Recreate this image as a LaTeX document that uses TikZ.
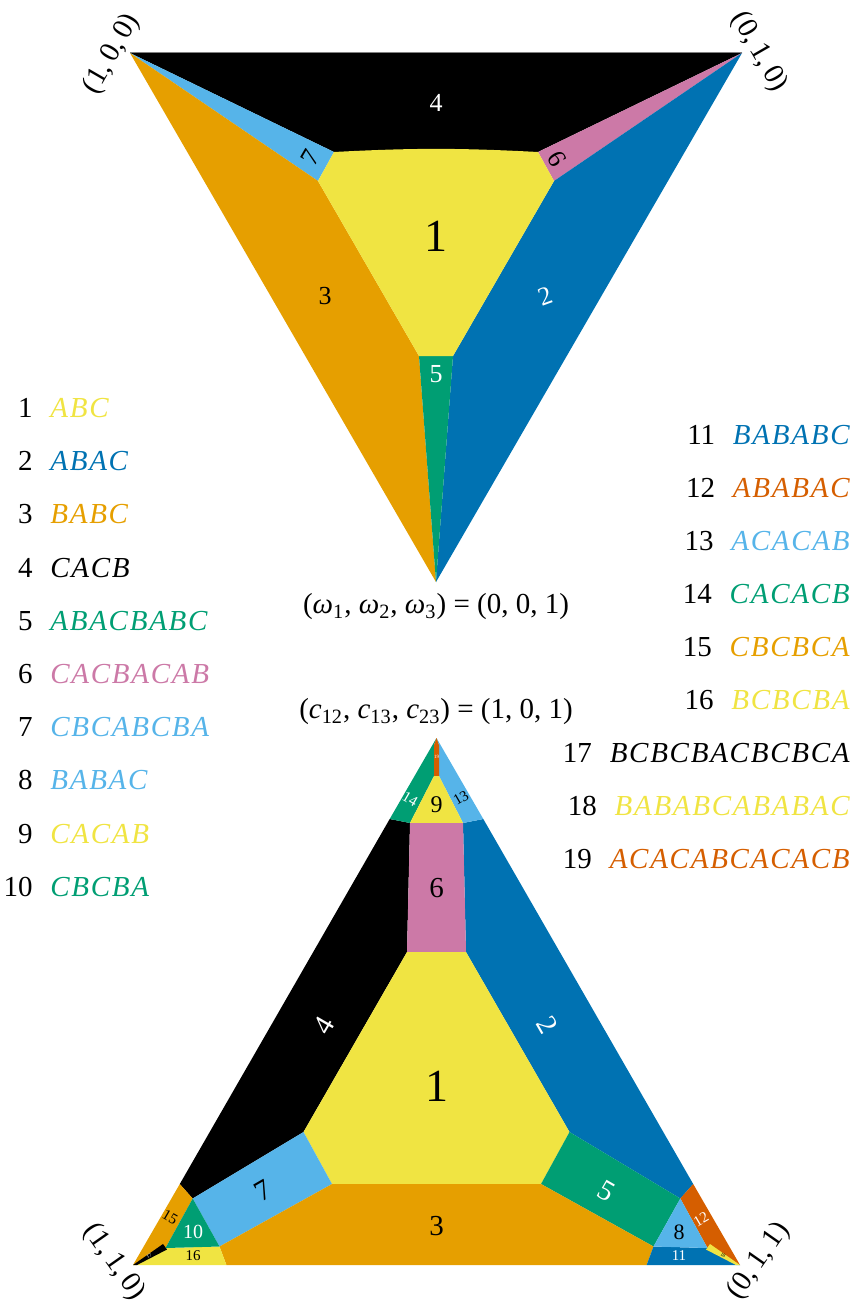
\documentclass[tikz,border=0pt]{standalone}
\usepackage{fontspec}
\setmainfont{Liberation Serif}
\newfontfamily\wordfont[LetterSpace=6]{Liberation Serif}
\usepackage{xcolor}
\usepackage{tikz}
\usetikzlibrary{positioning}

\definecolor{cyel}{HTML}{F0E442}
\definecolor{cblu}{HTML}{0072B2}
\definecolor{corg}{HTML}{E69F00}
\definecolor{cgrn}{HTML}{009E73}
\definecolor{cpnk}{HTML}{CC79A7}
\definecolor{csky}{HTML}{56B4E9}
\definecolor{cver}{HTML}{D55E00}

\begin{document}
\begin{tikzpicture}[
        x = 0.5pt, y = -0.5pt,
        lbl/.style = {inner sep=0pt, font=\fontsize{13}{13}\selectfont},
        lblbig/.style = {lbl, font=\fontsize{23}{23}\selectfont},
        lblmid/.style = {lbl, font=\fontsize{14.5}{14.5}\selectfont},
        lblsml/.style = {lbl, font=\fontsize{7.5}{7.5}\selectfont},
        lbltny/.style = {lbl, font=\fontsize{2.5}{2.5}\selectfont},
        num/.style = {inner sep=0pt, font=\fontsize{14.5}{17}\selectfont},
        word/.style = {inner sep=0pt, font=\fontsize{14.5}{17}\selectfont\wordfont\itshape},
        label distance = 8.5pt,
    ]
    \useasboundingbox (0,0) rectangle (857,1305);

    % upper triangle
    \coordinate (A) at (130,53);
    \coordinate (B) at (742,53);
    \coordinate (C) at (436,582);
    \coordinate (h1) at (334,152);
    \coordinate (h2) at (538,152);
    \coordinate (h3) at (554,181);
    \coordinate (h4) at (453,356);
    \coordinate (h5) at (419,356);
    \coordinate (h6) at (318,181);
    \fill[black] (A) -- (B) -- (h2) -- (h1) -- cycle;
    \fill[csky] (A) -- (h1) -- (h6) -- cycle;
    \fill[cpnk] (B) -- (h3) -- (h2) -- cycle;
    \fill[corg] (A) -- (h6) -- (h5) -- (C) -- cycle;
    \fill[cblu] (B) -- (h3) -- (h4) -- (C) -- cycle;
    \fill[cgrn] (h5) -- (h4) -- (C) -- cycle;
    \fill[cyel] (h1) to[bend left=3] (h2) -- (h3) -- (h4) -- (h5) -- (h6) -- cycle;
    \draw[gray, line width=0.5pt] (A) -- (B);

    \node[lbl, text=white] (t4) at (436,103) {4};
    \node[lblbig] (t1) at (436,236) {1};
    \node[lbl] (t3) at (325,296) {3};
    \node[lbl, text=white, rotate=20] (t2) at (545,296) {2};
    \node[lbl, text=white] (t5) at (436,374) {5};
    \node[lbl, rotate=60] (t7) at (310,158) {7};
    \node[lbl, rotate=-60] (t6) at (557,159) {6};

    % lower triangle
    \coordinate (L) at (133,1265);
    \coordinate (T) at (436.5,738);
    \coordinate (R) at (740,1265);
    \coordinate (s1) at (434,745);
    \coordinate (s2) at (439,745);
    \coordinate (s3) at (439,776);
    \coordinate (s4) at (434,776);
    \coordinate (e1) at (389.7,819);
    \coordinate (e2) at (483.3,819);
    \coordinate (k1) at (410,823);
    \coordinate (k2) at (463,823);
    \coordinate (k3) at (466,952);
    \coordinate (k4) at (407,952);
    \coordinate (m1) at (569.5,1132);
    \coordinate (m2) at (303.5,1132);
    \coordinate (n1) at (541,1184);
    \coordinate (n2) at (332,1184);
    \coordinate (e3) at (179.8,1184);
    \coordinate (e4) at (693.2,1184);
    \coordinate (q1) at (192.7,1198.5);
    \coordinate (q2) at (680.3,1198.5);
    \coordinate (r1) at (219.5,1246.5);
    \coordinate (r2) at (653.5,1246.5);
    \coordinate (u1) at (226.4,1265);
    \coordinate (u2) at (646.6,1265);
    \coordinate (v1) at (165.5,1248);
    \coordinate (v2) at (707.5,1248);
    \fill[black] (e1) -- (k1) -- (k4) -- (m2) -- (q1) -- (e3) -- cycle;
    \fill[cblu] (e2) -- (k2) -- (k3) -- (m1) -- (q2) -- (e4) -- cycle;
    \fill[cgrn] (T) -- (s1) -- (s4) -- (k1) -- (e1) -- cycle;
    \fill[csky] (T) -- (s2) -- (s3) -- (k2) -- (e2) -- cycle;
    \fill[cver] (s1) -- (T) -- (s2) -- (s3) -- (s4) -- cycle;
    \fill[cyel] (s4) -- (s3) -- (k2) -- (k1) -- cycle;
    \fill[cpnk] (k1) -- (k2) -- (k3) -- (k4) -- cycle;
    \fill[cyel] (k4) -- (k3) -- (m1) -- (n1) -- (n2) -- (m2) -- cycle;
    \fill[csky] (m2) -- (n2) -- (r1) -- (q1) -- cycle;
    \fill[cgrn] (m1) -- (q2) -- (r2) -- (n1) -- cycle;
    \fill[corg] (n2) -- (n1) -- (r2) -- (u2) -- (u1) -- (r1) -- cycle;
    \fill[corg] (e3) -- (q1) -- (v1) -- (L) -- cycle;
    \fill[cyel] (v1) -- (r1) -- (u1) -- (L) -- cycle;
    \fill[black] (L) -- (163,1244) -- (167,1249.5) -- (137,1265) -- cycle;
    \fill[cgrn] (q1) -- (r1) -- (v1) -- cycle;
    \fill[cver] (e4) -- (R) -- (v2) -- (q2) -- cycle;
    \fill[cblu] (r2) -- (v2) -- (R) -- (u2) -- cycle;
    \fill[cyel] (R) -- (710,1244) -- (706,1249.5) -- (736,1265) -- cycle;
    \fill[csky] (q2) -- (v2) -- (r2) -- cycle;

    \node[lbltny, text=white] (b19) at (436.5,757) {19};
    \node[lblsml, text=white, rotate=-30] (b14) at (410,799) {14};
    \node[lblsml, rotate=30] (b13) at (461,798) {13};
    \node[lbl, font=\fontsize{12}{12}\selectfont] (b9) at (436.5,805) {9};
    \node[lblmid] (b6) at (436.5,888) {6};
    \node[lblmid, text=white, rotate=60] (b4) at (324,1025) {4};
    \node[lblmid, text=white, rotate=-60] (b2) at (547,1025) {2};
    \node[lblbig] (b1) at (436.5,1086) {1};
    \node[lblmid, rotate=30] (b7) at (263,1191) {7};
    \node[lblmid, text=white, rotate=-30] (b5) at (606,1191) {5};
    \node[lblmid] (b3) at (436.5,1226) {3};
    \node[lbl, font=\fontsize{10}{10}\selectfont, text=white] (b10) at (193,1232) {10};
    \node[lblsml, rotate=-30] (b15) at (170,1217) {15};
    \node[lblsml] (b16) at (193,1256) {16};
    \node[lbltny, text=white, rotate=30] (b17) at (149,1256) {17};
    \node[lbl, font=\fontsize{11}{11}\selectfont] (b8) at (679,1232) {8};
    \node[lblsml, text=white] (b11) at (679,1256) {11};
    \node[lblsml, text=white, rotate=30] (b12) at (701,1219) {12};
    \node[lbltny, rotate=-30] (b18) at (723,1255) {18};

    % vertex labels
    \node[num, rotate=60] (c100) at (112,54) {(1,\,0,\,0)};
    \node[num, rotate=-60] (c010) at (759,52) {(0,\,1,\,0)};
    \node[num, rotate=-55] (c110) at (114,1262) {(1,\,1,\,0)};
    \node[num, rotate=55] (c011) at (759,1261) {(0,\,1,\,1)};

    \node[num] (eqw) at (436,607) {(\textit{ω}\textsubscript{1}, \textit{ω}\textsubscript{2}, \textit{ω}\textsubscript{3}) = (0, 0, 1)};
    \node[num] (eqc) at (436,712) {(\textit{c}\textsubscript{12}, \textit{c}\textsubscript{13}, \textit{c}\textsubscript{23}) = (1, 0, 1)};

    % words
    \foreach \w/\c [count=\j] in {
            ABC/cyel,
            ABAC/cblu,
            BABC/corg,
            CACB/black,
            ABACBABC/cgrn,
            CACBACAB/cpnk,
            CBCABCBA/csky,
            BABAC/csky,
            CACAB/cyel,
            CBCBA/cgrn}
    \node[word, text=\c, anchor=base west, label={[num]left:\j}] (w\j) at (50,{417.5+53.2*(\j-1)}) {\w};
    \foreach \w/\c [count=\j from 11] in {
            BABABC/cblu,
            ABABAC/cver,
            ACACAB/csky,
            CACACB/cgrn,
            CBCBCA/corg,
            BCBCBA/cyel,
            BCBCBACBCBCA/black,
            BABABCABABAC/cyel,
            ACACABCACACB/cver}
    \node[word, text=\c, anchor=base east, label={[num]left:\j}] (w\j) at (850,{444.5+53*(\j-11)}) {\w};
\end{tikzpicture}
\end{document}
